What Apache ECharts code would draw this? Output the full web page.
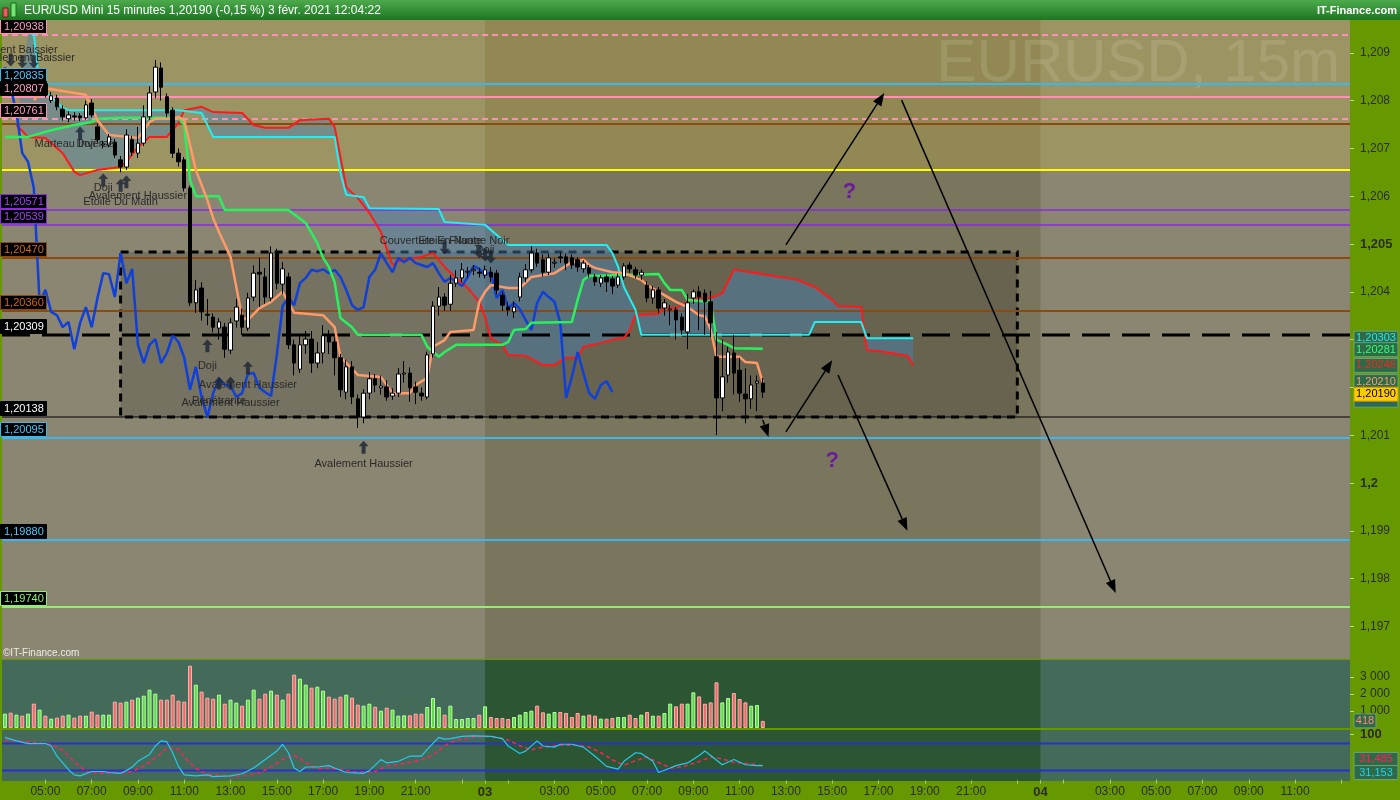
<!DOCTYPE html>
<html>
<head>
<meta charset="utf-8">
<title>EUR/USD Mini 15 minutes</title>
<script src="https://cdn.jsdelivr.net/npm/echarts@6.0.0/dist/echarts.min.js"></script>
<style>
html,body{margin:0;padding:0;background:#669900;overflow:hidden;}
#chart{width:1400px;height:800px;}
</style>
</head>
<body>
<div id="chart"></div>
<script>
// ================= DATA =================
// 15-minute bars starting 2 Feb 2021 03:15
const START_MINUTE = 3 * 60 + 15;
const BAR_COUNT = 233;
const categories = [];
for (let k = 0; k < BAR_COUNT; k++) {
  const t = START_MINUTE + 15 * k;
  const day = 2 + Math.floor(t / 1440);
  const m = t % 1440;
  categories.push(day + '|' + String(Math.floor(m / 60)).padStart(2, '0') + ':' + String(m % 60).padStart(2, '0'));
}
const tickLabels = ['2|05:00','2|07:00','2|09:00','2|11:00','2|13:00','2|15:00','2|17:00','2|19:00','2|21:00',
  '3|00:00','3|03:00','3|05:00','3|07:00','3|09:00','3|11:00','3|13:00','3|15:00','3|17:00','3|19:00','3|21:00',
  '4|00:00','4|03:00','4|05:00','4|07:00','4|09:00','4|11:00'];
const tickMarks = tickLabels.concat(['2|23:00','3|01:00','3|23:00','4|01:00','4|13:00']);

// candles: [open, close, low, high]
const ohlc = [
[1.20835,1.20850,1.20828,1.20858],[1.20850,1.20838,1.20832,1.20860],[1.20838,1.20852,1.20830,1.20862],[1.20852,1.20840,1.20834,1.20858],
[1.20840,1.20858,1.20836,1.20866],[1.20858,1.20820,1.20812,1.20864],[1.20820,1.20835,1.20815,1.20842],[1.20835,1.20812,1.20806,1.20840],
[1.20800,1.20810,1.20795,1.20818],[1.20805,1.20787,1.20780,1.20812],[1.20782,1.20766,1.20758,1.20790],[1.20762,1.20770,1.20755,1.20778],
[1.20768,1.20766,1.20758,1.20776],[1.20768,1.20764,1.20757,1.20774],[1.20764,1.20791,1.20760,1.20800],[1.20795,1.20770,1.20765,1.20803],
[1.20745,1.20718,1.20710,1.20752],[1.20707,1.20709,1.20700,1.20716],[1.20707,1.20724,1.20702,1.20730],[1.20713,1.20686,1.20680,1.20720],
[1.20676,1.20661,1.20650,1.20684],[1.20661,1.20728,1.20655,1.20740],[1.20718,1.20692,1.20684,1.20726],[1.20690,1.20711,1.20680,1.20745],
[1.20711,1.20766,1.20705,1.20790],[1.20766,1.20816,1.20760,1.20830],[1.20818,1.20870,1.20805,1.20885],[1.20868,1.20828,1.20800,1.20880],
[1.20808,1.20774,1.20765,1.20815],[1.20780,1.20690,1.20680,1.20786],[1.20690,1.20672,1.20662,1.20700],[1.20676,1.20617,1.20610,1.20682],
[1.20617,1.20377,1.20370,1.20622],[1.20377,1.20404,1.20356,1.20425],[1.20408,1.20358,1.20340,1.20420],[1.20353,1.20351,1.20330,1.20385],
[1.20347,1.20326,1.20315,1.20355],[1.20324,1.20337,1.20300,1.20345],[1.20326,1.20280,1.20262,1.20335],[1.20278,1.20335,1.20270,1.20345],
[1.20339,1.20368,1.20325,1.20385],[1.20351,1.20326,1.20310,1.20365],[1.20324,1.20387,1.20318,1.20398],[1.20389,1.20439,1.20380,1.20455],
[1.20441,1.20437,1.20368,1.20471],[1.20431,1.20389,1.20375,1.20450],[1.20387,1.20481,1.20380,1.20495],[1.20481,1.20418,1.20405,1.20490],
[1.20416,1.20448,1.20395,1.20462],[1.20431,1.20289,1.20280,1.20440],[1.20289,1.20251,1.20225,1.20300],[1.20238,1.20289,1.20230,1.20310],
[1.20289,1.20301,1.20270,1.20318],[1.20301,1.20251,1.20230,1.20318],[1.20251,1.20272,1.20240,1.20295],[1.20272,1.20308,1.20250,1.20330],
[1.20308,1.20295,1.20270,1.20320],[1.20295,1.20262,1.20225,1.20305],[1.20262,1.20195,1.20180,1.20270],[1.20190,1.20243,1.20175,1.20258],
[1.20243,1.20180,1.20165,1.20255],[1.20176,1.20138,1.20115,1.20185],[1.20138,1.20188,1.20125,1.20196],[1.20188,1.20218,1.20175,1.20232],
[1.20218,1.20205,1.20190,1.20228],[1.20199,1.20203,1.20185,1.20225],[1.20201,1.20180,1.20172,1.20215],[1.20182,1.20188,1.20174,1.20198],
[1.20188,1.20228,1.20180,1.20240],[1.20228,1.20230,1.20210,1.20255],[1.20230,1.20199,1.20170,1.20242],[1.20201,1.20190,1.20165,1.20212],
[1.20188,1.20182,1.20172,1.20200],[1.20180,1.20268,1.20175,1.20275],[1.20270,1.20370,1.20262,1.20380],[1.20370,1.20389,1.20350,1.20410],
[1.20389,1.20372,1.20360,1.20397],[1.20374,1.20418,1.20360,1.20435],[1.20418,1.20429,1.20410,1.20445],[1.20429,1.20446,1.20420,1.20460],
[1.20441,1.20443,1.20430,1.20452],[1.20444,1.20447,1.20435,1.20456],[1.20441,1.20439,1.20430,1.20450],[1.20435,1.20446,1.20428,1.20455],
[1.20441,1.20431,1.20420,1.20452],[1.20439,1.20404,1.20395,1.20446],[1.20393,1.20372,1.20360,1.20400],[1.20368,1.20362,1.20350,1.20378],
[1.20358,1.20368,1.20345,1.20380],[1.20389,1.20431,1.20380,1.20440],[1.20429,1.20446,1.20420,1.20458],[1.20446,1.20481,1.20440,1.20495],
[1.20481,1.20460,1.20452,1.20490],[1.20467,1.20441,1.20432,1.20478],[1.20441,1.20471,1.20435,1.20480],[1.20460,1.20462,1.20450,1.20470],
[1.20473,1.20471,1.20460,1.20482],[1.20473,1.20460,1.20445,1.20480],[1.20471,1.20456,1.20448,1.20478],[1.20467,1.20452,1.20442,1.20472],
[1.20448,1.20460,1.20440,1.20466],[1.20450,1.20439,1.20430,1.20456],[1.20431,1.20421,1.20412,1.20437],[1.20418,1.20429,1.20410,1.20435],
[1.20431,1.20421,1.20400,1.20436],[1.20427,1.20412,1.20395,1.20433],[1.20414,1.20431,1.20408,1.20438],[1.20431,1.20454,1.20425,1.20460],
[1.20456,1.20448,1.20440,1.20462],[1.20446,1.20435,1.20428,1.20452],[1.20435,1.20441,1.20425,1.20447],[1.20414,1.20387,1.20378,1.20422],
[1.20387,1.20404,1.20375,1.20412],[1.20404,1.20366,1.20355,1.20410],[1.20366,1.20377,1.20350,1.20385],[1.20362,1.20364,1.20330,1.20372],
[1.20362,1.20341,1.20300,1.20368],[1.20347,1.20320,1.20310,1.20355],[1.20316,1.20377,1.20280,1.20395],[1.20387,1.20400,1.20375,1.20405],
[1.20400,1.20389,1.20320,1.20412],[1.20397,1.20379,1.20310,1.20405],[1.20379,1.20335,1.20305,1.20402],[1.20264,1.20178,1.20100,1.20316],
[1.20178,1.20222,1.20150,1.20300],[1.20226,1.20274,1.20210,1.20285],[1.20272,1.20230,1.20185,1.20310],[1.20236,1.20188,1.20170,1.20262],
[1.20186,1.20176,1.20125,1.20240],[1.20176,1.20205,1.20155,1.20225],[1.20209,1.20213,1.20150,1.20225],[1.20209,1.20190,1.20178,1.20220]
];

const volumes = [
843,900,784,725,843,1431,1078,725,549,608,
725,784,608,725,725,960,784,784,784,1548,
1490,1548,1666,1784,1901,2254,2019,1666,1666,1960,
1607,1548,3665,2548,2136,1784,1725,1960,1431,1666,
1490,1313,1666,2254,1725,2019,2195,1960,1666,2019,
3136,2900,2548,2372,2430,2195,1842,1725,1842,1960,
1784,1372,1313,1431,1254,1019,1196,1078,725,745,
745,843,843,1235,1764,1235,784,1313,529,529,
588,588,784,1274,647,588,588,529,647,784,
941,1019,1313,921,843,941,941,882,647,882,
725,784,725,549,549,588,647,647,784,588,
784,941,725,725,882,1431,1274,1431,1431,2097,
1859,1429,1506,2686,1506,1765,2059,1706,1506,1312,1353,418
];

// Ichimoku lines, vertices [barIndex, price]
const tenkan = [[5,1.20801],[7,1.20826],[11,1.20818],[14,1.20812],[16,1.20759],[18,1.20728],[23,1.20722],[24,1.20738],[25,1.20755],
[26,1.20762],[29,1.20762],[30,1.20766],[31,1.20759],[33,1.20655],[35,1.20592],[36,1.20554],[37,1.20525],[39,1.20473],[41,1.20347],
[42,1.20341],[44,1.20366],[46,1.20379],[48,1.20400],[50,1.20356],[55,1.20351],[57,1.20326],[58,1.20264],[61,1.20226],[65,1.20222],
[67,1.20188],[70,1.20188],[71,1.20205],[73,1.20220],[74,1.20285],[76,1.20299],[77,1.20316],[81,1.20320],[82,1.20379],[83,1.20400],
[84,1.20414],[87,1.20408],[89,1.20408],[91,1.20431],[95,1.20439],[98,1.20462],[100,1.20467],[101,1.20456],[102,1.20450],[105,1.20441],
[107,1.20439],[110,1.20425],[111,1.20414],[114,1.20393],[116,1.20379],[118,1.20368],[120,1.20351],[121,1.20349],[122,1.20320],
[123,1.20264],[127,1.20264],[128,1.20253],[130,1.20251],[131,1.20210]];

const kijun = [[0,1.20724],[4,1.20724],[8,1.20738],[12,1.20749],[15,1.20755],[16,1.20762],[20,1.20764],[30,1.20764],[31,1.20749],
[32,1.20634],[33,1.20600],[37,1.20600],[38,1.20571],[49,1.20571],[52,1.20544],[54,1.20502],[55,1.20471],[56,1.20452],[57,1.20420],
[58,1.20345],[60,1.20326],[61,1.20310],[72,1.20310],[73,1.20285],[75,1.20264],[76,1.20274],[78,1.20289],[86,1.20289],[87,1.20295],
[88,1.20320],[90,1.20322],[91,1.20335],[98,1.20337],[99,1.20383],[100,1.20425],[101,1.20433],[113,1.20437],[114,1.20418],[115,1.20404],
[117,1.20404],[118,1.20383],[122,1.20379],[123,1.20300],[125,1.20289],[126,1.20282],[131,1.20281]];

const senkouA = [[2,1.20749],[4,1.20724],[7,1.20722],[10,1.20690],[12,1.20651],[13,1.20644],[16,1.20655],[20,1.20661],[21,1.20672],
[23,1.20703],[25,1.20724],[28,1.20724],[30,1.20753],[31,1.20780],[34,1.20787],[36,1.20776],[41,1.20774],[43,1.20749],[45,1.20743],
[49,1.20743],[51,1.20759],[56,1.20762],[57,1.20745],[58,1.20682],[59,1.20619],[61,1.20596],[63,1.20565],[65,1.20525],[67,1.20456],
[68,1.20464],[72,1.20473],[74,1.20481],[76,1.20452],[78,1.20429],[80,1.20408],[82,1.20379],[83,1.20347],[84,1.20303],[86,1.20289],
[87,1.20268],[90,1.20266],[93,1.20247],[95,1.20247],[97,1.20262],[99,1.20262],[100,1.20285],[102,1.20290],[106,1.20303],[107,1.20303],
[108,1.20320],[109,1.20351],[113,1.20354],[114,1.20366],[116,1.20366],[118,1.20379],[119,1.20387],[122,1.20387],[124,1.20397],
[126,1.20446],[130,1.20439],[137,1.20425],[140,1.20410],[143,1.20383],[144,1.20370],[148,1.20368],[149,1.20278],[151,1.20276],
[156,1.20266],[157,1.20247]];

const senkouB = [[4,1.20941],[5,1.20940],[6,1.20830],[7,1.20816],[8,1.20808],[10,1.20785],[11,1.20780],[30,1.20780],[34,1.20774],
[36,1.20724],[57,1.20724],[58,1.20649],[59,1.20603],[62,1.20598],[63,1.20575],[75,1.20573],[76,1.20546],[83,1.20540],[87,1.20498],
[104,1.20498],[105,1.20481],[106,1.20452],[107,1.20410],[109,1.20362],[110,1.20310],[139,1.20310],[140,1.20337],[148,1.20337],
[149,1.20303],[157,1.20303]];

// Chikou span values for bars 0..105
const chikou = [1.20870,1.20828,1.20774,1.20690,1.20672,1.20617,1.20377,1.20404,1.20358,1.20351,
1.20326,1.20337,1.20280,1.20335,1.20368,1.20326,1.20387,1.20439,1.20437,1.20389,
1.20481,1.20418,1.20448,1.20289,1.20251,1.20289,1.20301,1.20251,1.20272,1.20308,
1.20295,1.20262,1.20195,1.20243,1.20180,1.20138,1.20188,1.20218,1.20205,1.20203,
1.20180,1.20188,1.20228,1.20230,1.20199,1.20190,1.20182,1.20268,1.20370,1.20389,
1.20372,1.20418,1.20429,1.20446,1.20443,1.20447,1.20439,1.20446,1.20431,1.20404,
1.20372,1.20362,1.20368,1.20431,1.20446,1.20481,1.20460,1.20441,1.20471,1.20462,
1.20471,1.20460,1.20456,1.20452,1.20460,1.20439,1.20421,1.20429,1.20421,1.20412,
1.20431,1.20454,1.20448,1.20435,1.20441,1.20387,1.20404,1.20366,1.20377,1.20364,
1.20341,1.20320,1.20377,1.20400,1.20389,1.20379,1.20335,1.20178,1.20222,1.20274,
1.20230,1.20188,1.20176,1.20205,1.20213,1.20190];

// Stochastic oscillator vertices [barIndex, value]
const stochK = [[0,93.5],[2,85.8],[4,80],[7,80],[8,74.5],[9,52],[11,22],[12,10.6],[13,8.3],[15,18],[17,18],[18,15.8],[20,14],[21,20],
[22,28],[23,40.6],[25,55.8],[26,74.5],[27,85.8],[28,83.6],[29,59.6],[30,29.4],[31,10.6],[33,8.3],[35,10.6],[36,6.8],[39,8.3],[41,13],
[43,25.7],[45,44.5],[47,63.3],[48,78.4],[49,59.6],[50,25.7],[51,18],[52,28],[54,28],[56,31],[57,25.7],[59,15.8],[62,14],[63,20],
[65,44.5],[66,37],[68,40.6],[70,52],[72,52],[73,67],[75,93.5],[76,89.7],[77,91],[79,95.7],[81,97.2],[84,95.7],[86,91],[87,74.5],
[89,58],[90,63.3],[92,85.8],[93,74.5],[95,72],[96,78.4],[98,78.4],[100,72],[102,52],[104,29.4],[106,23.4],[107,40.6],[109,59.6],
[110,58],[112,40.6],[113,15.8],[115,25.7],[116,31],[118,37],[120,53.5],[121,63.3],[122,53.5],[124,33],[126,44.5],[128,33],[130,31],[131,31.153]];
const stochD = [[0,88],[4,84],[8,78],[10,65],[12,40],[14,18],[16,14],[20,14],[22,18],[24,30],[26,48],[28,70],[30,68],[31,50],[33,25],
[35,12],[38,8],[41,8],[44,15],[46,28],[48,45],[50,55],[52,38],[54,24],[56,26],[58,22],[61,16],[64,18],[66,30],[69,36],[72,44],[74,55],
[76,75],[78,88],[81,94],[84,96],[87,88],[89,75],[91,66],[93,72],[96,76],[99,76],[101,72],[103,60],[105,44],[107,32],[109,42],[111,50],
[113,38],[115,26],[117,28],[120,40],[122,50],[124,46],[126,38],[128,36],[131,31.485]];
const stochLevels = [80, 20];

// horizontal price levels
const levelPrices = [1.20938,1.20835,1.20807,1.20761,1.20751,1.20655,1.20571,1.20539,1.20470,1.20360,1.20309,1.20138,1.20095,1.19880,1.19740];
const levelLabels = ['1,20938','1,20835','1,20807','1,20761','','','1,20571','1,20539','1,20470','1,20360','1,20309','1,20138','1,20095','1,19880','1,19740'];

// y-axis ticks
const priceTicks = [1.197,1.198,1.199,1.2,1.201,1.202,1.203,1.204,1.205,1.206,1.207,1.208,1.209];
const volumeTicks = [1000,2000,3000];
const stochTicks = [100];

// right-side last value tags
const priceTagValues = [1.20303,1.20281,1.20246,1.20210,1.20190,1.20190];
const priceTagTexts = ['1,20303','1,20281','1,20246','1,20210','1,20190','1,20190'];
const volumeTagValues = [418];
const stochTagValues = [31.485, 31.153];
const stochTagTexts = ['31,485','31,153'];

// consolidation box [barIndex, price] corners
const boxCorners = [[20, 1.20483], [175, 1.20138]];
const dayBand = [83, 179];
const upperZoneFrom = 1.20655;

// hand-drawn arrows [[from],[to]]
const arrowPaths = [
  [[135,1.20498],[152,1.20816]],
  [[155,1.20801],[192,1.19770]],
  [[135,1.20107],[143,1.20257]],
  [[144,1.20226],[156,1.19900]],
  [[131,1.20132],[132,1.20096]]
];
const questionMarks = [[146,1.20609],[143,1.20046]];

// candle pattern markers
const patternUp = [[13,1.20732],[17,1.20634],[20,1.20623],[21,1.20630],[35,1.20287],[37,1.20209],[39,1.20209],[42,1.20241],[62,1.20075]];
const patternDown = [[1,1.20885],[3,1.20881],[5,1.20881],[76,1.20492],[82,1.20483],[83,1.20477],[84,1.20473]];
const patternTexts = [
  [1,1.20906,'Avalement Baissier'],[4,1.20889,'Avalement Baissier'],
  [12,1.20709,'Marteau Inversé'],[14,1.20709,'Doji'],
  [17,1.20617,'Doji'],[23,1.20600,'Avalement Haussier'],[20,1.20588,'Etoile Du Matin'],
  [35,1.20245,'Doji'],[42,1.20205,'Avalement Haussier'],[37,1.20172,'Pénétrante'],[39,1.20167,'Avalement Haussier'],
  [62,1.20040,'Avalement Haussier'],
  [76,1.20506,'Couverture En Nuage Noir'],[77,1.20506,'Etoile Filante'],[83,1.20487,'Doji']
];

// ================= STYLES =================
const FONT = "'Liberation Sans', Arial, sans-serif";
const LEVEL_STYLES = [
 {stroke:'#ff8fb5', width:2, dash:[6,4], text:'#ff9ec4', border:'#ff8fb5'},
 {stroke:'#38b8f0', width:2, text:'#4cc8ff', border:'#38b8f0'},
 {stroke:'#ff8fb5', width:2, text:'#ff9ec4'},
 {stroke:'#ff8fb5', width:2, dash:[6,4], text:'#ff9ec4', border:'#ff8fb5'},
 {stroke:'#8b4a10', width:2},
 {stroke:'#ffff00', width:2},
 {stroke:'#8a2be2', width:1.5, text:'#a040ff', border:'#8a2be2'},
 {stroke:'#8a2be2', width:1.5, text:'#a040ff', border:'#8a2be2'},
 {stroke:'#8b4a10', width:2, text:'#d06818', border:'#8b4a10'},
 {stroke:'#8b4a10', width:2, text:'#d06818', border:'#8b4a10'},
 {stroke:'#000000', width:3, dash:[28,12], text:'#ffffff'},
 {stroke:'#000000', width:1, text:'#ffffff'},
 {stroke:'#38b8f0', width:2, text:'#4cc8ff', border:'#38b8f0'},
 {stroke:'#38b8f0', width:2, text:'#4cc8ff'},
 {stroke:'#90ee70', width:2, text:'#90ee70', border:'#90ee70'}
];
const TAG_STYLES = [
 {fill:'#2f6a48', stroke:'#6aa37e', text:'#22e8f0', dy:0},
 {fill:'#2f6a48', stroke:'#6aa37e', text:'#33ff77', dy:1},
 {fill:'#2f6a48', stroke:'#6aa37e', text:'#ff2020', dy:0},
 {fill:'#2f6a48', stroke:'#6aa37e', text:'#ff9a6a', dy:-1},
 {fill:'#2f6a48', stroke:'#6aa37e', text:'#2050e0', dy:8},
 {fill:'#ffcc00', stroke:'#c89a00', text:'#000000', dy:2}
];
const STOCH_TAG_STYLES = [
 {fill:'#2f6a48', stroke:'#6aa37e', text:'#ff2060', dy:-6},
 {fill:'#2f6a48', stroke:'#6aa37e', text:'#22d0f0', dy:7}
];
const ARROW_PATH = 'path://M5,0 L10,6 L7,6 L7,14 L3,14 L3,6 L0,6 Z';

// ================= CHART =================
const chart = echarts.init(document.getElementById('chart'), null, {renderer: 'canvas', width: 1400, height: 800});

const PRICE_MIN = 1.196318, PRICE_MAX = 1.209686;

function fmtPriceTick(v) {
  const s = String(+(+v).toFixed(3)).replace('.', ',');
  return (Math.abs(v - 1.205) < 1e-7 || Math.abs(v - 1.2) < 1e-7) ? '{b|' + s + '}' : s;
}
const tickLabelSet = new Set(tickLabels);
const tickMarkSet = new Set(tickMarks);

function tagShape(x, y, w, st, text) {
  return [
    {type:'rect', shape:{x:x, y:y - 7, width:w, height:14}, style:{fill:st.fill, stroke:st.stroke, lineWidth:1}},
    {type:'text', style:{x:x + w / 2, y:y, text:text, fill:st.text, font:'11px ' + FONT, align:'center', verticalAlign:'middle'}}
  ];
}

function renderMainBg(params, api) {
  const cs = params.coordSys;
  const xa = api.coord([dayBand[0], 1.2])[0];
  const xb = api.coord([dayBand[1], 1.2])[0];
  const yz = api.coord([0, upperZoneFrom])[1];
  const p1 = api.coord(boxCorners[0]);
  const p2 = api.coord(boxCorners[1]);
  return {type:'group', children:[
    {type:'rect', shape:{x:xa, y:cs.y, width:xb - xa, height:cs.height}, style:{fill:'rgba(60,50,10,0.2)'}},
    {type:'rect', shape:{x:cs.x, y:cs.y, width:cs.width, height:yz - cs.y}, style:{fill:'rgba(205,185,60,0.28)'}},
    {type:'text', style:{x:cs.x + cs.width - 10, y:cs.y + 14, text:'EURUSD, 15m', fill:'rgba(255,250,220,0.13)', font:'60px ' + FONT, align:'right', verticalAlign:'top'}},
    {type:'rect', shape:{x:p1[0], y:p1[1], width:p2[0] - p1[0], height:p2[1] - p1[1]}, style:{fill:'rgba(0,0,0,0.15)', stroke:'#000', lineWidth:3, lineDash:[8,6]}},
    {type:'text', style:{x:cs.x + 1, y:cs.y + cs.height - 1, text:'©IT-Finance.com', fill:'#ecece4', font:'10px ' + FONT, align:'left', verticalAlign:'bottom'}}
  ]};
}

function renderPaneBg(params, api) {
  const cs = params.coordSys;
  const xa = api.coord([dayBand[0], 0])[0];
  const xb = api.coord([dayBand[1], 0])[0];
  return {type:'rect', shape:{x:xa, y:cs.y, width:xb - xa, height:cs.height}, style:{fill:'rgba(15,60,5,0.45)'}};
}

function renderStochLevels(params, api) {
  const cs = params.coordSys;
  const y = api.coord([0, api.value(1)])[1];
  return {type:'line', shape:{x1:cs.x, y1:y, x2:cs.x + cs.width, y2:y}, style:{stroke:'#2a30d0', lineWidth:2}};
}

function renderCloud(params, api) {
  const pts = [];
  senkouB.forEach(p => pts.push(api.coord(p)));
  for (let i = senkouA.length - 1; i >= 0; i--) pts.push(api.coord(senkouA[i]));
  return {type:'polygon', shape:{points:pts}, style:{fill:'rgba(70,130,185,0.45)'}};
}

function renderLevel(params, api) {
  const cs = params.coordSys;
  const st = LEVEL_STYLES[params.dataIndex];
  const y = Math.round(api.coord([0, api.value(1)])[1]);
  const style = {stroke:st.stroke, lineWidth:st.width};
  if (st.dash) style.lineDash = st.dash;
  return {type:'line', shape:{x1:cs.x, y1:y, x2:cs.x + cs.width, y2:y}, style:style};
}

function renderLevelLabel(params, api) {
  const i = params.dataIndex;
  const st = LEVEL_STYLES[i];
  if (!levelLabels[i]) return {type:'group', children:[]};
  const y = Math.round(api.coord([0, api.value(1)])[1]);
  return {type:'group', children:[
    {type:'rect', shape:{x:0.5, y:y - 15.5, width:46, height:14}, style:{fill:'#000', stroke:st.border || '#000', lineWidth:1}},
    {type:'text', style:{x:4, y:y - 8, text:levelLabels[i], fill:st.text, font:'11px ' + FONT, align:'left', verticalAlign:'middle'}}
  ]};
}

function renderPriceTag(params, api) {
  const cs = params.coordSys;
  const st = TAG_STYLES[params.dataIndex];
  const y = api.coord([0, api.value(1)])[1] + st.dy;
  return {type:'group', children:tagShape(cs.x + cs.width + 4, y, 44, st, priceTagTexts[params.dataIndex])};
}
function renderVolumeTag(params, api) {
  const cs = params.coordSys;
  const y = api.coord([0, api.value(1)])[1];
  return {type:'group', children:tagShape(cs.x + cs.width + 4, y, 22, {fill:'#2f6a48', stroke:'#6aa37e', text:'#ff8a80'}, String(volumeTagValues[params.dataIndex]))};
}
function renderStochTag(params, api) {
  const cs = params.coordSys;
  const st = STOCH_TAG_STYLES[params.dataIndex];
  const y = api.coord([0, api.value(1)])[1] + st.dy;
  return {type:'group', children:tagShape(cs.x + cs.width + 4, y, 44, st, stochTagTexts[params.dataIndex])};
}

function renderArrow(params, api) {
  const a = arrowPaths[params.dataIndex];
  const p1 = api.coord(a[0]);
  const p2 = api.coord(a[1]);
  const dx = p2[0] - p1[0], dy = p2[1] - p1[1];
  const len = Math.sqrt(dx * dx + dy * dy);
  const ux = dx / len, uy = dy / len;
  const hl = 13, hw = 5;
  const bx = p2[0] - ux * hl, by = p2[1] - uy * hl;
  return {type:'group', children:[
    {type:'line', shape:{x1:p1[0], y1:p1[1], x2:bx, y2:by}, style:{stroke:'#000', lineWidth:1.5}},
    {type:'polygon', shape:{points:[[p2[0], p2[1]], [bx - uy * hw, by + ux * hw], [bx + uy * hw, by - ux * hw]]}, style:{fill:'#000'}}
  ]};
}

function renderQuestion(params, api) {
  const p = api.coord([api.value(0), api.value(1)]);
  return {type:'text', style:{x:p[0], y:p[1], text:'?', fill:'#6a1b9a', font:'bold 22px ' + FONT, align:'center', verticalAlign:'middle'}};
}

function renderPatternText(params, api) {
  const t = patternTexts[params.dataIndex];
  const p = api.coord([t[0], t[1]]);
  return {type:'text', style:{x:p[0], y:p[1], text:t[2], fill:'#2a2a2a', font:'11px ' + FONT, align:'center', verticalAlign:'middle'}};
}

const volumeData = volumes.map((v, i) => {
  const up = ohlc[i][1] >= ohlc[i][0];
  return {value: v, itemStyle: up ? {color:'#62d84e', borderColor:'#b4ff9c', borderWidth:1} : {color:'#e86e6e', borderColor:'#ffb0a8', borderWidth:1}};
});

function xAxisFor(grid, visible) {
  const ax = {type:'category', gridIndex:grid, data:categories, boundaryGap:true, show:visible};
  if (visible) {
    ax.axisLine = {show:false};
    ax.axisTick = {show:true, alignWithLabel:true, length:4, interval:(idx, val) => tickMarkSet.has(val), lineStyle:{color:'#a6cc6a'}};
    ax.axisLabel = {interval:(idx, val) => tickLabelSet.has(val), margin:5, color:'#2b2b2b', fontSize:12, fontFamily:FONT,
      formatter:(val) => { const parts = val.split('|'); return parts[1] === '00:00' ? '{b|0' + parts[0] + '}' : parts[1]; },
      rich:{b:{fontWeight:'bold', fontSize:13, color:'#2b2b2b', fontFamily:FONT}}};
    ax.splitLine = {show:false};
  }
  return ax;
}

const option = {
  animation:false,
  backgroundColor:'#669900',
  textStyle:{fontFamily:FONT},
  grid:[
    {left:2, top:20, width:1348, height:639, show:true, backgroundColor:'#8a8672', borderWidth:0},
    {left:2, top:660, width:1348, height:68, show:true, backgroundColor:'#446b5a', borderWidth:0},
    {left:2, top:730, width:1348, height:51, show:true, backgroundColor:'#446b5a', borderWidth:0}
  ],
  xAxis:[xAxisFor(0, false), xAxisFor(1, false), xAxisFor(2, true)],
  yAxis:[
    {gridIndex:0, type:'value', position:'right', min:PRICE_MIN, max:PRICE_MAX, splitLine:{show:false}, axisLine:{show:false},
      axisTick:{show:true, customValues:priceTicks, length:4, lineStyle:{color:'#b4dc84'}},
      axisLabel:{customValues:priceTicks, formatter:fmtPriceTick, color:'#2b2b2b', fontSize:12, margin:10, fontFamily:FONT,
        rich:{b:{fontWeight:'bold', fontSize:13, color:'#2b2b2b', fontFamily:FONT}}}},
    {gridIndex:1, type:'value', position:'right', min:0, max:4000, splitLine:{show:false}, axisLine:{show:false},
      axisTick:{show:true, customValues:volumeTicks, length:4, lineStyle:{color:'#b4dc84'}},
      axisLabel:{customValues:volumeTicks, formatter:(v) => (v / 1000) + ' 000', color:'#2b2b2b', fontSize:12, margin:10, fontFamily:FONT}},
    {gridIndex:2, type:'value', position:'right', min:-3, max:110, splitLine:{show:false}, axisLine:{show:false},
      axisTick:{show:true, customValues:stochTicks, length:4, lineStyle:{color:'#b4dc84'}},
      axisLabel:{customValues:stochTicks, formatter:(v) => '{b|' + v + '}', color:'#2b2b2b', fontSize:12, margin:10, fontFamily:FONT,
        rich:{b:{fontWeight:'bold', fontSize:13, color:'#2b2b2b', fontFamily:FONT}}}}
  ],
  graphic:[
    {type:'rect', shape:{x:0, y:0, width:1400, height:20}, z:100,
      style:{fill:new echarts.graphic.LinearGradient(0, 0, 0, 1, [{offset:0, color:'#4caa4c'}, {offset:1, color:'#1d7622'}])}},
    {type:'rect', shape:{x:3, y:8, width:5, height:9}, z:101, style:{fill:'#e46060', stroke:'#7a1a1a', lineWidth:1}},
    {type:'rect', shape:{x:11, y:3, width:5, height:14}, z:101, style:{fill:'#70e870', stroke:'#1a6a1a', lineWidth:1}},
    {type:'text', x:24, y:11, z:101, style:{text:'EUR/USD Mini 15 minutes 1,20190 (-0,15 %) 3 févr. 2021 12:04:22', fill:'#ffffff',
      font:'12px ' + FONT, textAlign:'left', textVerticalAlign:'middle', align:'left', verticalAlign:'middle'}},
    {type:'text', x:1397, y:11, z:101, style:{text:'IT-Finance.com', fill:'#ffffff', font:'bold 11px ' + FONT,
      textAlign:'right', textVerticalAlign:'middle', align:'right', verticalAlign:'middle'}}
  ],
  series:[
    {type:'custom', name:'bgMain', xAxisIndex:0, yAxisIndex:0, z:1, silent:true, data:[[0, 1.2]], renderItem:renderMainBg},
    {type:'custom', name:'bgVol', xAxisIndex:1, yAxisIndex:1, z:1, silent:true, data:[[0, 0]], renderItem:renderPaneBg},
    {type:'custom', name:'bgOsc', xAxisIndex:2, yAxisIndex:2, z:1, silent:true, data:[[0, 50]], renderItem:renderPaneBg},
    {type:'custom', name:'oscLevels', xAxisIndex:2, yAxisIndex:2, z:2, silent:true, data:stochLevels.map(v => [0, v]), renderItem:renderStochLevels},
    {type:'custom', name:'cloud', xAxisIndex:0, yAxisIndex:0, z:2, silent:true, data:[[0, 1.2]], renderItem:renderCloud},
    {type:'custom', name:'levels', xAxisIndex:0, yAxisIndex:0, z:3, silent:true, data:levelPrices.map(v => [0, v]), renderItem:renderLevel},
    {type:'line', name:'Senkou A', xAxisIndex:0, yAxisIndex:0, z:4, data:senkouA, showSymbol:false, symbol:'none', lineStyle:{color:'#ff1a1a', width:2}},
    {type:'line', name:'Senkou B', xAxisIndex:0, yAxisIndex:0, z:4, data:senkouB, showSymbol:false, symbol:'none', lineStyle:{color:'#25eef0', width:2}},
    {type:'line', name:'Chikou', xAxisIndex:0, yAxisIndex:0, z:4, data:chikou.map((v, i) => [i, v]), showSymbol:false, symbol:'none', lineStyle:{color:'#1040d8', width:2.5}},
    {type:'line', name:'Kijun', xAxisIndex:0, yAxisIndex:0, z:4, data:kijun, showSymbol:false, symbol:'none', lineStyle:{color:'#2af060', width:2.5}},
    {type:'line', name:'Tenkan', xAxisIndex:0, yAxisIndex:0, z:4, data:tenkan, showSymbol:false, symbol:'none', lineStyle:{color:'#ff9a68', width:2.5}},
    {type:'candlestick', name:'EUR/USD', xAxisIndex:0, yAxisIndex:0, z:5, data:ohlc, barWidth:4,
      itemStyle:{color:'#ffffff', color0:'#000000', borderColor:'#000000', borderColor0:'#000000', borderWidth:1}},
    {type:'scatter', name:'patternUp', xAxisIndex:0, yAxisIndex:0, z:6, data:patternUp, symbol:ARROW_PATH, symbolSize:[10,13], itemStyle:{color:'#1c2432'}},
    {type:'scatter', name:'patternDown', xAxisIndex:0, yAxisIndex:0, z:6, data:patternDown, symbol:ARROW_PATH, symbolRotate:180, symbolSize:[10,13], itemStyle:{color:'#1c2432'}},
    {type:'custom', name:'patternText', xAxisIndex:0, yAxisIndex:0, z:6, silent:true, data:patternTexts.map(t => [t[0], t[1]]), renderItem:renderPatternText},
    {type:'custom', name:'arrows', xAxisIndex:0, yAxisIndex:0, z:6, silent:true, data:arrowPaths.map(a => a[0]), renderItem:renderArrow},
    {type:'custom', name:'questions', xAxisIndex:0, yAxisIndex:0, z:6, silent:true, data:questionMarks, renderItem:renderQuestion},
    {type:'custom', name:'levelLabels', xAxisIndex:0, yAxisIndex:0, z:7, silent:true, data:levelPrices.map(v => [0, v]), renderItem:renderLevelLabel},
    {type:'custom', name:'priceTags', xAxisIndex:0, yAxisIndex:0, z:7, silent:true, data:priceTagValues.map(v => [0, v]), renderItem:renderPriceTag},
    {type:'bar', name:'Volume', xAxisIndex:1, yAxisIndex:1, z:5, data:volumeData, barWidth:4},
    {type:'custom', name:'volTag', xAxisIndex:1, yAxisIndex:1, z:7, silent:true, data:volumeTagValues.map(v => [0, v]), renderItem:renderVolumeTag},
    {type:'line', name:'%D', xAxisIndex:2, yAxisIndex:2, z:5, data:stochD, showSymbol:false, symbol:'none', lineStyle:{color:'#ff2060', width:1.5, type:[4,3]}},
    {type:'line', name:'%K', xAxisIndex:2, yAxisIndex:2, z:5, data:stochK, showSymbol:false, symbol:'none', lineStyle:{color:'#22ccee', width:1.2}},
    {type:'custom', name:'stochTags', xAxisIndex:2, yAxisIndex:2, z:7, silent:true, data:stochTagValues.map(v => [0, v]), renderItem:renderStochTag}
  ]
};
chart.setOption(option);
</script>
</body>
</html>
